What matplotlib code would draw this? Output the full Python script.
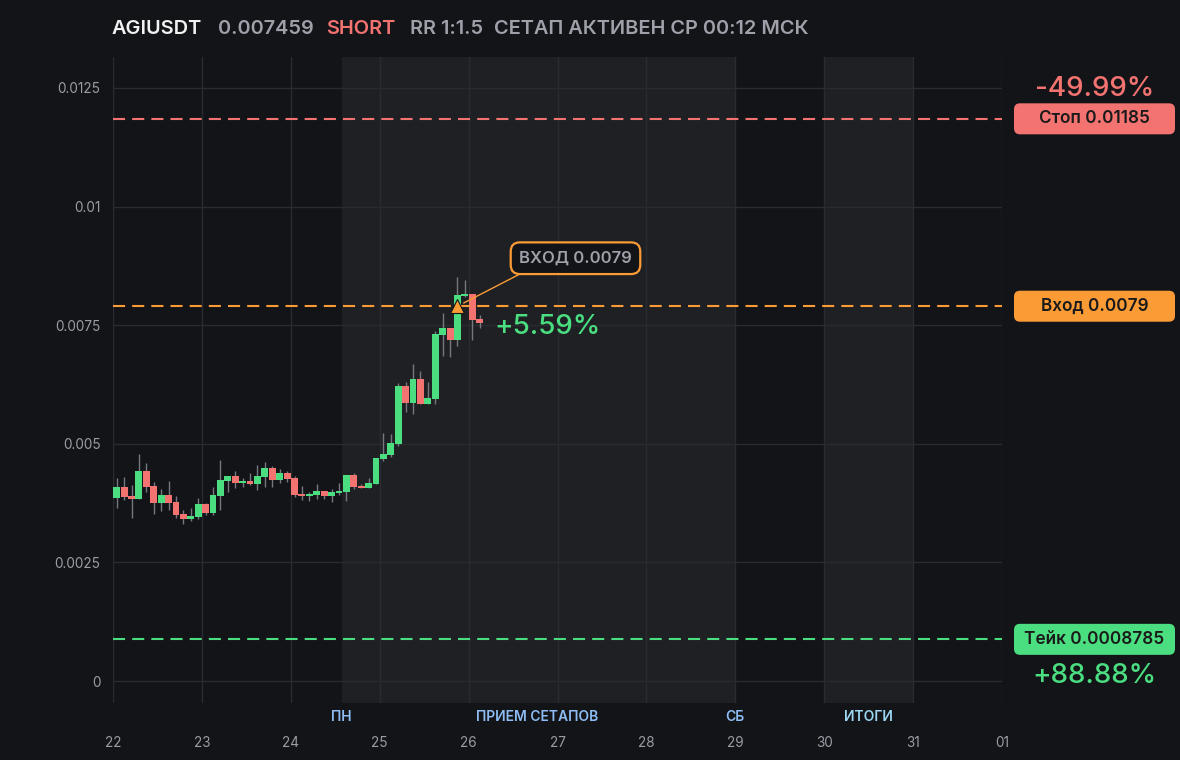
import numpy as np
import pandas as pd
import matplotlib
matplotlib.use("Agg")
import matplotlib.pyplot as plt
import matplotlib.dates as mdates
from matplotlib.patches import FancyBboxPatch
from matplotlib.transforms import IdentityTransform, blended_transform_factory

plt.rcParams['font.family'] = ['Inter', 'DejaVu Sans']

# ---------------- data ----------------
symbol = "AGIUSDT"
price_label = "0.007459"
side_label = "SHORT"
rr_label = "RR 1:1.5"
status_label = "СЕТАП АКТИВЕН СР 00:12 МСК"

candle_start = "2025-03-22 00:00"
candle_freq = "2h"
opens = [0.003864, 0.004089, 0.003900, 0.003836, 0.004427, 0.004110, 0.003752, 0.003921, 0.003773, 0.003520,
         0.003415, 0.003457, 0.003731, 0.003541, 0.003900, 0.004216, 0.004321, 0.004174, 0.004216, 0.004153,
         0.004300, 0.004490, 0.004237, 0.004385, 0.004279, 0.003942, 0.003900, 0.003921, 0.004005, 0.003900,
         0.003963, 0.003984, 0.004342, 0.004110, 0.004068, 0.004153, 0.004680, 0.004764, 0.004996, 0.006218,
         0.005860, 0.006366, 0.005839, 0.005944, 0.007293, 0.007441, 0.007188, 0.008116, 0.008158, 0.007631]
highs = [0.004279, 0.004300, 0.004132, 0.004785, 0.004595, 0.004195, 0.004047, 0.004216, 0.003900, 0.003605,
         0.003647, 0.003858, 0.003752, 0.004089, 0.004659, 0.004321, 0.004427, 0.004279, 0.004385, 0.004553,
         0.004616, 0.004532, 0.004469, 0.004427, 0.004321, 0.004110, 0.003984, 0.004153, 0.004005, 0.004047,
         0.004174, 0.004342, 0.004385, 0.004153, 0.004279, 0.004701, 0.005228, 0.005207, 0.006282, 0.006303,
         0.006682, 0.006535, 0.006303, 0.007378, 0.007757, 0.007441, 0.008516, 0.008453, 0.008158, 0.007715]
lows = [0.003647, 0.003815, 0.003436, 0.003836, 0.003984, 0.003520, 0.003583, 0.003605, 0.003436, 0.003309,
        0.003373, 0.003415, 0.003499, 0.003499, 0.003605, 0.003984, 0.004068, 0.004089, 0.004132, 0.004026,
        0.004089, 0.004089, 0.004174, 0.004195, 0.003879, 0.003815, 0.003794, 0.003836, 0.003836, 0.003773,
        0.003921, 0.003794, 0.004047, 0.004068, 0.004068, 0.004153, 0.004637, 0.004722, 0.004954, 0.005670,
        0.005628, 0.005839, 0.005839, 0.005839, 0.006851, 0.006830, 0.007062, 0.008095, 0.007188, 0.007441]
closes = [0.004089, 0.003879, 0.003836, 0.004427, 0.004089, 0.003752, 0.003921, 0.003752, 0.003499, 0.003415,
          0.003478, 0.003731, 0.003541, 0.003921, 0.004237, 0.004321, 0.004174, 0.004216, 0.004153, 0.004321,
          0.004490, 0.004237, 0.004385, 0.004258, 0.003921, 0.003900, 0.003942, 0.004005, 0.003900, 0.003984,
          0.004005, 0.004342, 0.004089, 0.004068, 0.004174, 0.004701, 0.004785, 0.005017, 0.006218, 0.005860,
          0.006366, 0.005839, 0.005965, 0.007315, 0.007441, 0.007188, 0.008137, 0.008158, 0.007610, 0.007553]

current_price = 0.007459
stop_price = 0.01185
entry_price = 0.0079
take_price = 0.0008785
entry_time = "2025-03-25 21:00"
stop_label = "Стоп 0.01185"
entry_box_label = "Вход 0.0079"
take_label = "Тейк 0.0008785"
entry_note = "ВХОД 0.0079"
stop_pct = "-49.99%"
take_pct = "+88.88%"
pnl_pct = "+5.59%"

y_ticks = [0, 0.0025, 0.005, 0.0075, 0.01, 0.0125]
y_tick_labels = ["0", "0.0025", "0.005", "0.0075", "0.01", "0.0125"]
y_limits = [-0.000457, 0.013153]
x_limits = ["2025-03-22 00:00", "2025-04-01 00:00"]

zone_starts = ["2025-03-24 13:45", "2025-03-30 00:00"]
zone_ends = ["2025-03-29 00:00", "2025-03-31 00:00"]
week_labels = ["ПН", "ПРИЕМ СЕТАПОВ", "СБ", "ИТОГИ"]
week_label_times = ["2025-03-24 13:45", "2025-03-26 18:36", "2025-03-29 00:00", "2025-03-30 12:00"]

# ---------------- style ----------------
BG = '#131418'
ZONE = '#1f2024'
GRID = '#2a2b30'
GREEN = '#4ade80'
RED = '#f37370'
ORANGE = '#fb9b36'
WICK = '#75787f'
GRAY = '#9ea1a9'
TICK = '#9a9da5'
WHITE = '#f2f2f2'
BLUE = '#8dbdf3'
CYAN = '#9cd8f3'
DARKTXT = '#1a1a1a'

W, H = 1180, 760
fig = plt.figure(figsize=(W / 100, H / 100), dpi=100, facecolor=BG)
ax_left, ax_right, ax_top, ax_bottom = 113, 1002, 57, 702.7
ax = fig.add_axes([ax_left / W, 1 - ax_bottom / H, (ax_right - ax_left) / W, (ax_bottom - ax_top) / H])
ax.set_facecolor(BG)

times = pd.date_range(candle_start, periods=len(opens), freq=candle_freq)
step = pd.Timedelta(candle_freq)
centers = mdates.date2num(times + step / 2)
bw = (step / pd.Timedelta('1D')) * 0.93

o = np.array(opens); h = np.array(highs); l = np.array(lows); c = np.array(closes)
up = c >= o
colors = np.where(up, GREEN, RED)
bottoms = np.minimum(o, c)
heights = np.maximum(np.abs(c - o), 0.00004)

# zones
for zs, ze in zip(zone_starts, zone_ends):
    ax.axvspan(mdates.date2num(pd.Timestamp(zs)), mdates.date2num(pd.Timestamp(ze)),
               color=ZONE, lw=0, zorder=0)

ax.set_xlim(mdates.date2num(pd.Timestamp(x_limits[0])), mdates.date2num(pd.Timestamp(x_limits[1])))
ax.set_ylim(*y_limits)

ax.grid(True, color=GRID, lw=1, zorder=0.5)
ax.set_axisbelow(True)
for s in ax.spines.values():
    s.set_visible(False)

ax.xaxis.set_major_locator(mdates.DayLocator())
ax.xaxis.set_major_formatter(mdates.DateFormatter('%d'))
ax.set_yticks(y_ticks)
ax.set_yticklabels(y_tick_labels)
ax.tick_params(axis='both', length=0, colors=TICK, labelsize=9.8)
ax.tick_params(axis='y', pad=9)
ax.tick_params(axis='x', pad=24)

# candles
ax.vlines(centers, l, h, color=WICK, lw=1, zorder=2)
ax.bar(centers, heights, bottom=bottoms, width=bw, color=colors, lw=0, zorder=3)

# levels
dash = (0, (5.8, 3.4))
ax.axhline(stop_price, color=RED, lw=1.5, ls=dash, zorder=4)
ax.axhline(entry_price, color=ORANGE, lw=1.5, ls=dash, zorder=4)
ax.axhline(take_price, color=GREEN, lw=1.5, ls=dash, zorder=4)

# entry marker + note
et = mdates.date2num(pd.Timestamp(entry_time))
ax.plot([et], [entry_price], marker='^', ms=9.5, color=ORANGE, mec='#131418', mew=0.8, zorder=6)
ax.annotate(entry_note, xy=(et, entry_price), xytext=(118, 48), textcoords='offset pixels',
            ha='center', va='center', fontsize=12, fontweight='semibold', color=GRAY, zorder=7,
            bbox=dict(boxstyle='round,pad=0.5,rounding_size=0.55', fc=BG, ec=ORANGE, lw=1.6),
            arrowprops=dict(arrowstyle='-', color=ORANGE, lw=1, relpos=(0.15, 0), shrinkA=0, shrinkB=5))

# pnl text next to last candle
ax.annotate(pnl_pct, xy=(centers[-1], current_price), xytext=(15, 0), textcoords='offset pixels',
            ha='left', va='center', fontsize=20, color=GREEN, fontweight='medium', zorder=7)

# week labels under the axis
tr = blended_transform_factory(ax.transData, ax.transAxes)
for lab, t in zip(week_labels, week_label_times):
    col = CYAN if lab == "ИТОГИ" else BLUE
    ax.text(mdates.date2num(pd.Timestamp(t)), -(717 - ax_bottom) / (ax_bottom - ax_top), lab,
            transform=tr, ha='center', va='center', fontsize=10, fontweight='semibold',
            color=col, clip_on=False)

# right-side price boxes (display pixel coordinates)
box_x0, box_x1, box_h = 1014, 1175, 31
def price_box(price, label, color, pct=None, pct_dy=0, pct_color=None):
    yd = ax.transData.transform((ax.get_xlim()[0], price))[1]
    patch = FancyBboxPatch((box_x0, yd - box_h / 2), box_x1 - box_x0, box_h,
                           boxstyle='round,pad=0,rounding_size=6', fc=color, ec='none',
                           transform=IdentityTransform(), zorder=5)
    fig.add_artist(patch)
    fig.text((box_x0 + box_x1) / 2, yd, label, transform=IdentityTransform(), ha='center',
             va='center', fontsize=12.4, fontweight='semibold', color=DARKTXT, zorder=6)
    if pct is not None:
        fig.text((box_x0 + box_x1) / 2, yd + pct_dy, pct, transform=IdentityTransform(),
                 ha='center', va='center', fontsize=20, fontweight='medium', color=pct_color, zorder=6)

price_box(stop_price, stop_label, RED, stop_pct, 30, RED)
price_box(entry_price, entry_box_label, ORANGE)
price_box(take_price, take_label, GREEN, take_pct, -37, GREEN)

# title
title_y = 1 - 29.5 / H
title_parts = [(symbol, WHITE, 112), (price_label, GRAY, 218), (side_label, RED, 326),
               (rr_label, GRAY, 410), (status_label, GRAY, 494)]
for txt, col, xp in title_parts:
    fig.text(xp / W, title_y, txt, color=col, fontsize=14.4, fontweight='semibold',
             ha='left', va='center')

fig.savefig("out.png", dpi=100, facecolor=BG)
